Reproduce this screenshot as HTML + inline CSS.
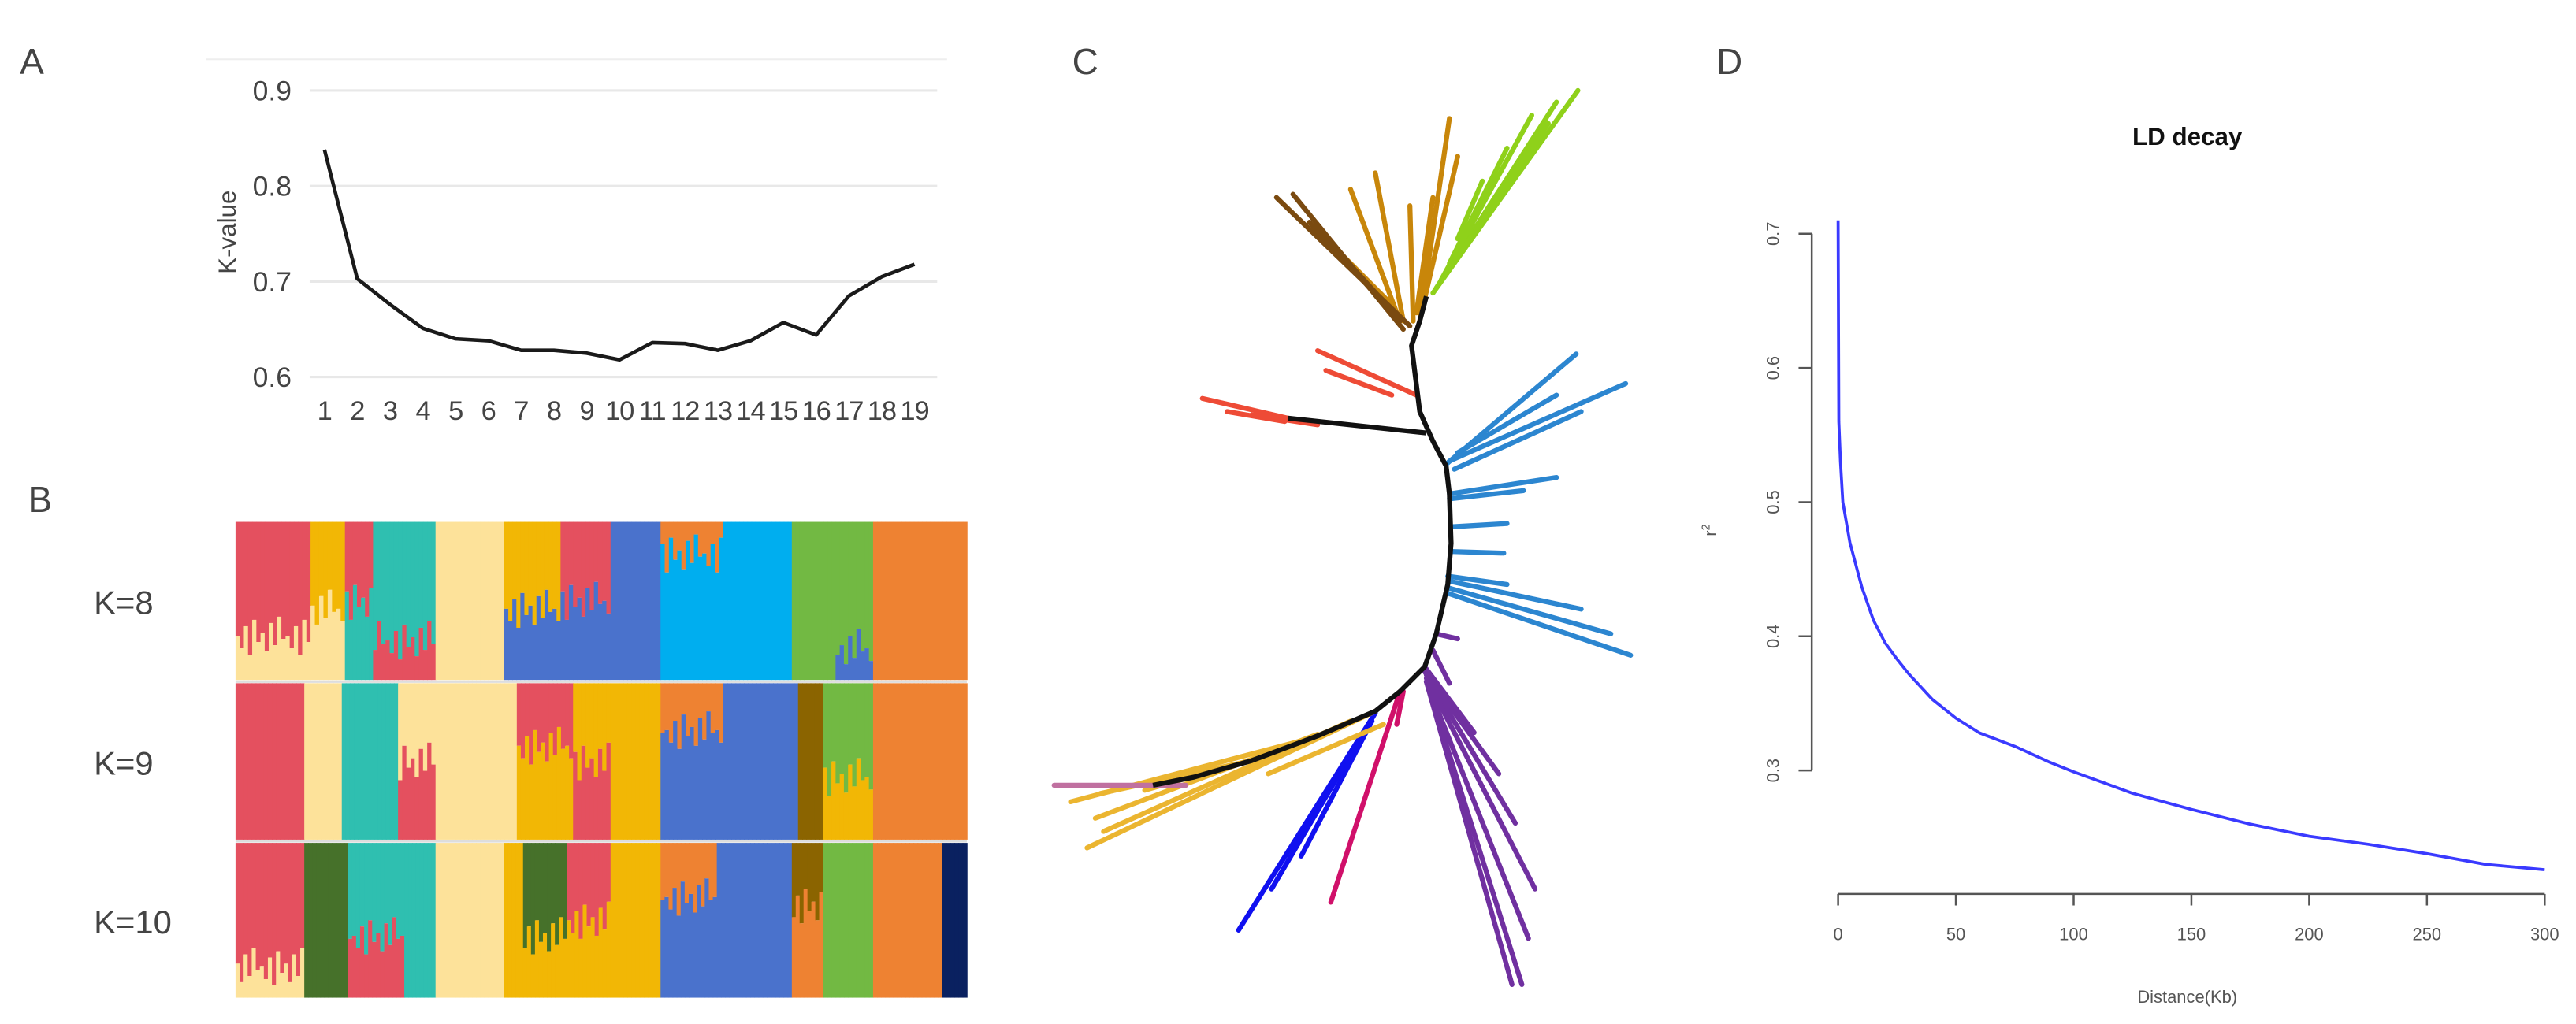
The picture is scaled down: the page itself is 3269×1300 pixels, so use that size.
<!DOCTYPE html>
<html><head><meta charset="utf-8"><style>
html,body{margin:0;padding:0;background:#fff;}
svg{display:block;}
text{font-family:"Liberation Sans",Arial,sans-serif;}
</style></head><body>
<svg id="fig" width="3269" height="1300" viewBox="0 0 1564 622" preserveAspectRatio="none" xmlns="http://www.w3.org/2000/svg">
<rect width="1564" height="622" fill="#fff"/>
<g id="panelA"></g>
<g id="panelB"></g>
<g id="panelC"></g>
<g id="panelD"></g>
</svg>
<script>
// ---------- Panel A data ----------
const kCategories = [1,2,3,4,5,6,7,8,9,10,11,12,13,14,15,16,17,18,19];
const kValues = [0.838,0.703,0.676,0.651,0.640,0.638,0.628,0.628,0.625,0.618,0.636,0.635,0.628,0.638,0.657,0.644,0.685,0.705,0.718];
const kTicks = [0.6,0.7,0.8,0.9];
// ---------- Panel D data ----------
const ldDistance = [0,0.3,1,2,5,10,15,20,25,30,40,50,60,75,90,100,125,150,175,200,225,250,275,300];
const ldR2 = [0.71,0.56,0.53,0.50,0.47,0.437,0.412,0.395,0.383,0.372,0.353,0.339,0.328,0.318,0.306,0.299,0.283,0.271,0.260,0.251,0.245,0.238,0.230,0.226];
const ldYTicks = [0.3,0.4,0.5,0.6,0.7];
const ldXTicks = [0,50,100,150,200,250,300];
// ---------- Panel B data ----------
const structLabels = ["K=8","K=9","K=10"];
const structK8 = [[120,'R','C',0.72],[55,'Y','C',0.55],[45,'R','T',0.5],[100,'T','R',0.75],[110,'C','C',1],[90,'Y','B',0.55],[80,'R','B',0.5],[80,'B','B',1],[100,'O','S',0.2],[110,'S','S',1],[70,'G','G',1],[60,'G','B',0.8],[150,'O','O',1]];
const structK9 = [[110,'R','R',1],[60,'C','C',1],[90,'T','T',1],[60,'C','R',0.5],[130,'C','C',1],[90,'R','Y',0.4],[60,'Y','R',0.5],[80,'Y','Y',1],[100,'O','B',0.3],[120,'B','B',1],[40,'W','W',1],[80,'G','Y',0.6],[150,'O','O',1]];
const structK10 = [[110,'R','C',0.8],[70,'D','D',1],[90,'T','R',0.6],[50,'T','T',1],[110,'C','C',1],[30,'Y','Y',1],[70,'D','Y',0.6],[70,'R','Y',0.5],[80,'Y','Y',1],[90,'O','B',0.35],[120,'B','B',1],[50,'W','O',0.4],[80,'G','G',1],[110,'O','O',1],[40,'N','N',1]];
const structJitter = [0,0.08,-0.06,0.12,-0.1,0.04,-0.02,0.1,-0.08,0.06,-0.12,0.02];

const NS="http://www.w3.org/2000/svg";
function mk(tag, attrs, parent){const e=document.createElementNS(NS,tag);for(const k in attrs)e.setAttribute(k,attrs[k]);parent.appendChild(e);return e;}

// ===== Panel A =====
(function(){
  const g=document.getElementById('panelA');
  const lbl=mk('text',{x:12,y:45,'font-size':22,fill:'#444'},g);lbl.textContent='A';
  
  
  const y=v=>229-(v-0.6)/0.1*58;
  const x=i=>197+i*19.9;
  const top=mk('line',{x1:125,x2:575,y1:36,y2:36,stroke:'#eee','stroke-width':1},g);
  
  
  kTicks.forEach(t=>{
    const l=mk('line',{x1:188,x2:569,y1:y(t),y2:y(t),stroke:'#e8e8e8','stroke-width':1.5},g);
    
    
    const tx=mk('text',{x:177,y:y(t)+6,'font-size':17,fill:'#444','text-anchor':'end'},g);
    tx.textContent=t.toFixed(1);
    
    
  });
  kCategories.forEach((c,i)=>{
    const tx=mk('text',{x:x(i),y:255,'font-size':16.5,fill:'#444','text-anchor':'middle','letter-spacing':'-0.5'},g);
    tx.textContent=c;
    
    
  });
  const yt=mk('text',{x:0,y:0,'font-size':15,fill:'#444','text-anchor':'middle',transform:'translate(143,141) rotate(-90)'},g);
  yt.textContent='K-value';
  
  
  const p=mk('polyline',{points:kValues.map((v,i)=>x(i)+','+y(v)).join(' '),fill:'none',stroke:'#1a1a1a','stroke-width':2.2,'stroke-linejoin':'round'},g);
  
  
})();

// ===== Panel B =====
(function(){
  const g=document.getElementById('panelB');
  const lbl=mk('text',{x:17,y:311,'font-size':22,fill:'#444'},g);lbl.textContent='B';
  
  
  const col={R:'#E4505F',C:'#FDE29A',Y:'#F2B705',T:'#2FBFB0',B:'#4A72CC',S:'#00AEEF',G:'#72B943',O:'#EE8232',W:'#8B6400',D:'#46712A',N:'#0A2160'};
  const rows=[structK8,structK9,structK10];
  const rowY=[[317,413],[415,510],[512,606]];
  const X0=143,X1=587;
  rows.forEach((blocks,r)=>{
    const total=blocks.reduce((s,b)=>s+b[0],0);
    const [ya,yb]=rowY[r];
    const h=yb-ya;
    let cx=X0, ji=r*3;
    blocks.forEach(b=>{
      const w=b[0]/total*(X1-X0);
      const n=Math.max(1,Math.round(w/2.5));
      const sw=w/n;
      for(let i=0;i<n;i++){
        let f=b[3]<1?Math.min(1,Math.max(0,b[3]+structJitter[(ji++)%structJitter.length])):1;
        const x0=cx+i*sw;
        const a=mk('rect',{x:x0,y:ya,width:sw+0.4,height:h*f,fill:col[b[1]]},g);
        
        
        if(f<1){
          const c=mk('rect',{x:x0,y:ya+h*f,width:sw+0.4,height:h*(1-f),fill:col[b[2]]},g);
          
          
        }
      }
      cx+=w;
    });
    const t=mk('text',{x:57,y:(ya+yb)/2+8,'font-size':20,fill:'#444'},g);
    t.textContent=structLabels[r];
    
    
  });
  [414,511].forEach(yy=>{
    const l=mk('line',{x1:143,x2:587,y1:yy,y2:yy,stroke:'#ddd','stroke-width':1.5},g);
    
    
  });
})();

// ===== Panel C =====
(function(){
  const g=document.getElementById('panelC');
  const lbl=mk('text',{x:651,y:45,'font-size':22,fill:'#444'},g);lbl.textContent='C';
  
  
  const clades={
    '#8FD11A':[[870,178,958,55],[872,175,945,62],[875,170,930,70],[880,160,915,90],[885,145,900,110],[877,168,940,75]],
    '#C8860A':[[862,195,880,72],[860,190,870,120],[858,195,856,125],[852,195,835,105],[848,190,820,115],[845,185,815,155],[863,190,885,95]],
    '#7A4A10':[[856,198,775,120],[852,200,785,118],[850,195,795,135],[848,192,810,150]],
    '#EE4B36':[[730,242,782,254],[745,250,780,256],[800,213,860,240],[805,225,845,240],[760,252,800,258]],
    '#2C86D0':[[878,282,957,215],[880,280,987,233],[885,275,945,240],[883,285,960,250],[880,300,945,290],[880,303,925,298],[881,320,915,318],[881,335,913,336],[880,353,960,370],[879,357,978,385],[878,360,990,398],[879,350,915,355]],
    '#7030A0':[[872,385,885,388],[870,395,880,415],[865,405,895,445],[865,408,910,470],[866,410,920,500],[866,412,932,540],[866,414,918,598],[866,414,924,598],[866,414,928,570]],
    '#D0106A':[[850,420,808,548],[852,420,848,440]],
    '#1010F0':[[835,433,752,565],[835,433,772,540],[833,438,790,520]],
    '#EBB530':[[835,432,660,515],[820,438,670,505],[800,446,665,497],[790,450,650,487],[760,462,668,482],[730,470,695,480],[840,440,770,470]],
    '#C070A0':[[640,477,720,477]]
  };
  for(const c in clades){
    clades[c].forEach(s=>{
      const l=mk('line',{x1:s[0],y1:s[1],x2:s[2],y2:s[3],stroke:c,'stroke-width':3,'stroke-linecap':'round'},g);
      
      
    });
  }
  const bb=mk('polyline',{points:'866,180 862,195 857,210 862,250 870,268 878,283 880,300 881,330 879,355 872,385 865,405 850,420 835,432 800,447 760,462 725,472 700,477',fill:'none',stroke:'#111','stroke-width':3,'stroke-linejoin':'round'},g);
  
  
  const rb=mk('line',{x1:782,y1:254,x2:866,y2:263,stroke:'#111','stroke-width':3},g);
  
  
})();

// ===== Panel D =====
(function(){
  const g=document.getElementById('panelD');
  const lbl=mk('text',{x:1042,y:45,'font-size':22,fill:'#444'},g);lbl.textContent='D';
  
  
  const x=d=>1116+d/300*429;
  const y=v=>468-(v-0.3)/0.4*326;
  const t=mk('text',{x:1328,y:88,'font-size':15,'font-weight':'bold',fill:'#111','text-anchor':'middle'},g);
  t.textContent='LD decay';
  
  
  const ya=mk('line',{x1:1100,x2:1100,y1:y(0.7),y2:y(0.3),stroke:'#555','stroke-width':1.2},g);
  
  
  ldYTicks.forEach(v=>{
    const l=mk('line',{x1:1092,x2:1100,y1:y(v),y2:y(v),stroke:'#555','stroke-width':1.2},g);
    
    
    const tx=mk('text',{x:0,y:0,'font-size':10.5,fill:'#555','text-anchor':'middle',transform:`translate(1080,${y(v)}) rotate(-90)`},g);
    tx.textContent=v.toFixed(1);
    
    
  });
  const xa=mk('line',{x1:x(0),x2:x(300),y1:543,y2:543,stroke:'#555','stroke-width':1.2},g);
  
  
  ldXTicks.forEach(d=>{
    const l=mk('line',{x1:x(d),x2:x(d),y1:543,y2:550,stroke:'#555','stroke-width':1.2},g);
    
    
    const tx=mk('text',{x:x(d),y:571,'font-size':10.5,fill:'#555','text-anchor':'middle'},g);
    tx.textContent=d;
    
    
  });
  const xt=mk('text',{x:1328,y:609,'font-size':10.5,fill:'#555','text-anchor':'middle'},g);
  xt.textContent='Distance(Kb)';
  
  
  const rt=mk('text',{x:0,y:0,'font-size':10.5,fill:'#555','text-anchor':'middle',transform:'translate(1042,322) rotate(-90)'},g);
  rt.innerHTML='r<tspan dy="-4" font-size="7">2</tspan>';
  
  
  const p=mk('polyline',{points:ldDistance.map((d,i)=>x(d)+','+y(ldR2[i])).join(' '),fill:'none',stroke:'#3a3aff','stroke-width':1.8,'stroke-linejoin':'round'},g);
  
  
})();
</script>
</body></html>
